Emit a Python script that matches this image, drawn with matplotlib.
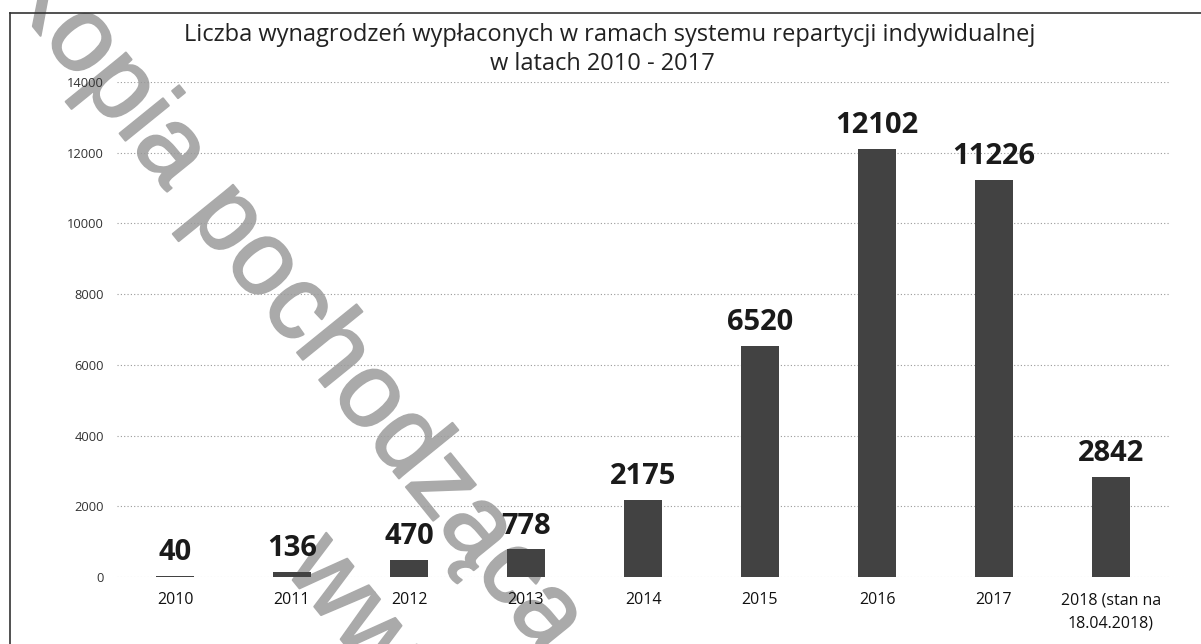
import matplotlib
matplotlib.use("Agg")
import matplotlib.pyplot as plt
from matplotlib import patheffects as pe

categories = ["2010", "2011", "2012", "2013", "2014", "2015", "2016", "2017",
              "2018 (stan na\n18.04.2018)"]
values = [40, 136, 470, 778, 2175, 6520, 12102, 11226, 2842]
yticks = [0, 2000, 4000, 6000, 8000, 10000, 12000, 14000]
title_lines = ["Liczba wynagrodzeń wypłaconych w ramach systemu repartycji indywidualnej",
               "w latach 2010 - 2017"]
watermark_1 = "Kopia pochodząca z"
watermark_2 = "www.sejm.gov.pl"

W, H = 1201, 644
fig = plt.figure(figsize=(W / 100, H / 100), dpi=100)
fig.patch.set_facecolor("white")

FONT = ["Open Sans", "DejaVu Sans"]
WM_FONT = ["Liberation Sans", "DejaVu Sans"]
WM_COLOR = "#aaaaaa"
wm_fx = [pe.withStroke(linewidth=1.5, foreground=WM_COLOR)]

# watermark (behind chart content)
fig.text(-3 / W, 1 + 18 / H, watermark_1, rotation=-51, rotation_mode="anchor",
         ha="left", va="baseline", fontsize=76, color=WM_COLOR,
         family=WM_FONT, zorder=-5, path_effects=wm_fx)
fig.text(283 / W, 1 - 568 / H, watermark_2, rotation=-51, rotation_mode="anchor",
         ha="left", va="baseline", fontsize=76, color=WM_COLOR,
         family=WM_FONT, zorder=-5, path_effects=wm_fx)

# frame
fig.add_artist(plt.Line2D([10 / W, 10 / W], [0, 1 - 13 / H], transform=fig.transFigure,
                          color="#333333", lw=1.2))
fig.add_artist(plt.Line2D([10 / W, 1], [1 - 13 / H, 1 - 13 / H], transform=fig.transFigure,
                          color="#333333", lw=1.2))

left, right = 116.5 / W, 1169.5 / W
bottom, top = 1 - 577 / H, 1 - 82 / H
ax = fig.add_axes([left, bottom, right - left, top - bottom])
ax.set_facecolor("none")

x = list(range(len(categories)))
ax.bar(x, values, width=0.32, color="#424242", zorder=3)
ax.set_xlim(-0.5, len(categories) - 0.5)
ax.set_ylim(0, 14000)

for xi, v in zip(x, values):
    ax.annotate(str(v), (xi, v), xytext=(0, 11.5), textcoords="offset points",
                ha="center", va="baseline", fontsize=21, fontweight="bold",
                color="#1a1a1a", family=FONT, zorder=4)

ax.set_yticks(yticks)
ax.set_yticklabels([str(t) for t in yticks], family=FONT, fontsize=9.3, color="#333333")
ax.set_xticks(x)
ax.set_xticklabels(categories, family=FONT, fontsize=11.5, color="#111111", linespacing=1.6)
ax.tick_params(axis="both", length=0)
ax.tick_params(axis="y", pad=9)
ax.tick_params(axis="x", pad=11)
for s in ax.spines.values():
    s.set_visible(False)
ax.grid(axis="y", color="#9a9a9a", linestyle=(0, (1, 2)), linewidth=0.8, zorder=0)
ax.set_axisbelow(True)

fig.text(610 / W, 1 - 41 / H, title_lines[0], ha="center", va="baseline",
         fontsize=17, color="#222222", family=FONT)
fig.text(602 / W, 1 - 70 / H, title_lines[1], ha="center", va="baseline",
         fontsize=17, color="#222222", family=FONT)

fig.savefig("out.png", dpi=100, facecolor="white")
